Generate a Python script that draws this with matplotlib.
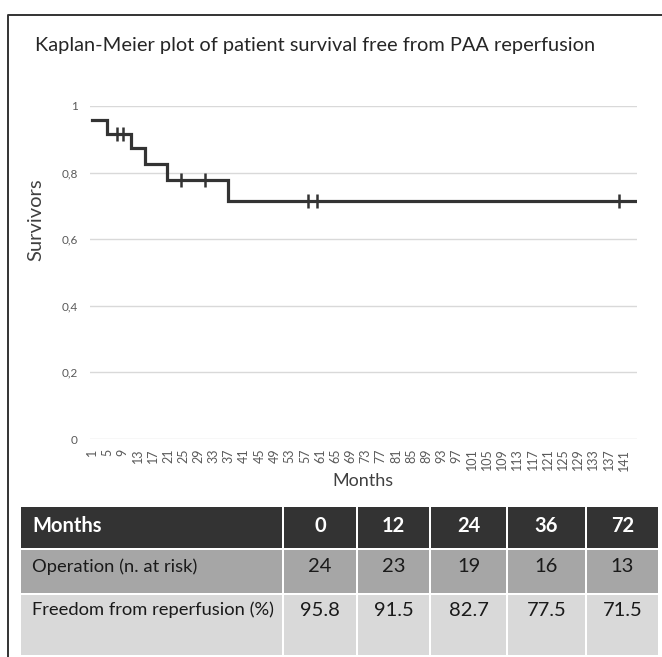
import numpy as np
import matplotlib.pyplot as plt
from matplotlib.patches import Rectangle

plt.rcParams['font.family'] = ['Lato', 'DejaVu Sans']

# survival curve (months, fraction surviving)
event_months = [4.9, 11.3, 14.8, 20.6, 36.7]
survival = [0.958, 0.915, 0.873, 0.827, 0.777, 0.716]
last_month = 144
censor_months = [7.4, 9.2, 24.3, 30.7, 57.8, 60.1, 139.8]
censor_surv = [0.915, 0.915, 0.777, 0.777, 0.716, 0.716, 0.716]

# table below the chart
table_months = ["0", "12", "24", "36", "72"]
at_risk = ["24", "23", "19", "16", "13"]
freedom = ["95.8", "91.5", "82.7", "77.5", "71.5"]
row_names = ["Months", "Operation (n. at risk)", "Freedom from reperfusion (%)"]

W, H = 662, 657
fig = plt.figure(figsize=(W / 100, H / 100), dpi=100)

# chart axes (pixel box 90..637 x 106..439)
ax = fig.add_axes([90.4 / W, 1 - 439 / H, (637 - 90.4) / W, (439 - 106) / H])
xs = [1] + event_months + [last_month]
ys = survival + [survival[-1]]
ax.step(xs, ys, where='post', color='#333333', lw=2.3, solid_joinstyle='miter')
ax.plot(censor_months, censor_surv, ls='none', marker='|', ms=10, mew=1.8, color='#333333')
ax.set_xlim(0.5, last_month + 0.5)
ax.set_ylim(0, 1)
ticks = np.arange(1, 142, 4)
ax.set_xticks(ticks)
ax.set_xticklabels([str(t) for t in ticks], rotation=90, fontsize=9, color='#595959')
yt = [0, 0.2, 0.4, 0.6, 0.8, 1]
ax.set_yticks(yt)
ax.set_yticklabels(["0", "0,2", "0,4", "0,6", "0,8", "1"], fontsize=8.5, color='#595959')
ax.tick_params(length=0)
ax.tick_params(axis='y', pad=9)
ax.tick_params(axis='x', pad=7)
ax.grid(axis='y', color='#d9d9d9', lw=1)
ax.set_axisbelow(True)
for s in ax.spines.values():
    s.set_visible(False)

# overlay in pixel coords for frame, titles and table
ov = fig.add_axes([0, 0, 1, 1], zorder=-1)
ov.set_xlim(0, W)
ov.set_ylim(H, 0)
ov.axis('off')
ov.plot([8, 8, W], [H, 15, 15], color='#333333', lw=1.4)

fig.text(35 / W, 1 - 45 / H, "Kaplan-Meier plot of patient survival free from PAA reperfusion",
         fontsize=14.4, color='#262626', va='center', ha='left')
fig.text(36 / W, 1 - 220 / H, "Survivors", rotation=90, fontsize=14.5, color='#404040',
         va='center', ha='center')
fig.text(363 / W, 1 - 481 / H, "Months", fontsize=13, color='#404040', va='center', ha='center')

col_edges = [20, 283, 357, 430, 507, 586, 659]
row_edges = [(507, 548), (550, 593), (595, 655)]
row_colors = ['#333333', '#a6a6a6', '#d9d9d9']
text_y = [526, 567, 610]
rows = [table_months, at_risk, freedom]
for r, (top, bot) in enumerate(row_edges):
    for c in range(len(col_edges) - 1):
        x0 = col_edges[c] + 1
        x1 = col_edges[c + 1] - 1
        ov.add_patch(Rectangle((x0, top), x1 - x0, bot - top, color=row_colors[r], lw=0))
    tc = 'white' if r == 0 else '#1a1a1a'
    fw = 'bold' if r == 0 else 'normal'
    name_size = 14.5 if r == 0 else 13.2
    ov.text(32, text_y[r], row_names[r], color=tc, fontweight=fw, fontsize=name_size,
            va='center', ha='left')
    for c, val in enumerate(rows[r]):
        cx = (col_edges[c + 1] + col_edges[c + 2]) / 2
        ov.text(cx, text_y[r], val, color=tc, fontweight=fw, fontsize=14.5, va='center', ha='center')

fig.savefig("out.png", dpi=100)
